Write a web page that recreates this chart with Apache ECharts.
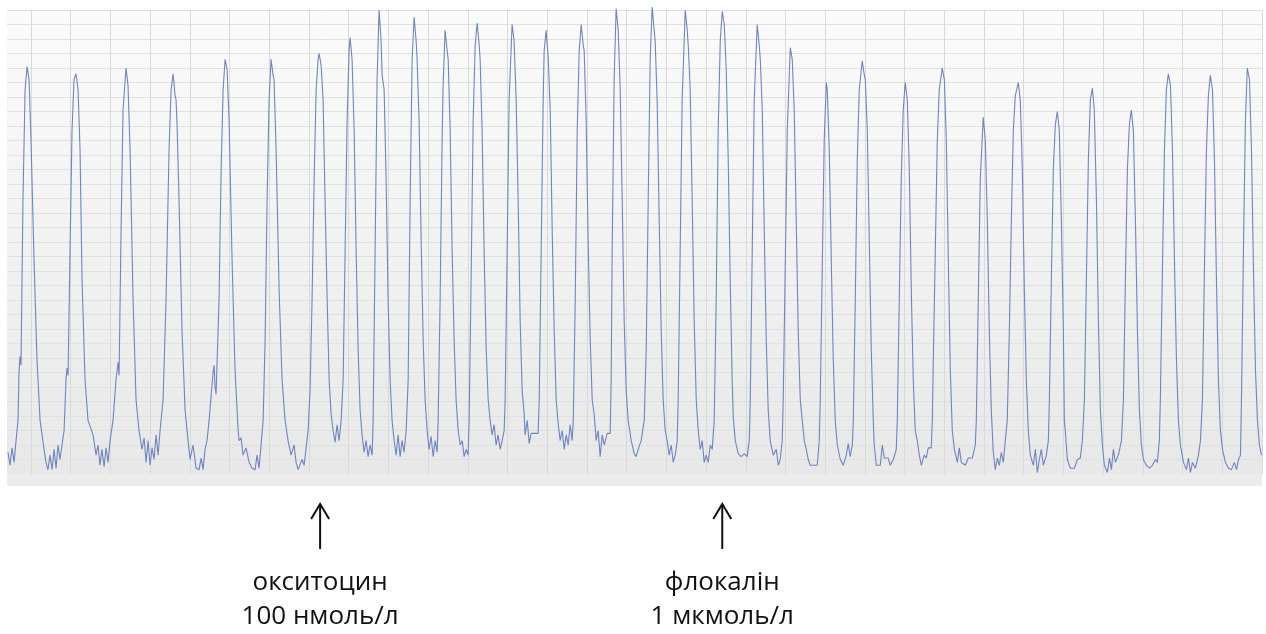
<!DOCTYPE html>
<html>
<head>
<meta charset="utf-8">
<title>Скоротлива активність міометрія</title>
<script src="https://cdn.jsdelivr.net/npm/echarts@6/dist/echarts.min.js"></script>
<style>
  html, body { margin: 0; padding: 0; background: #ffffff; }
  #chart { width: 1266px; height: 634px; }
</style>
</head>
<body>
<div id="chart"></div>
<script>
// Isometric tension record: [time, s; tension, arb. units]
const controlTrace = [
  [-23.2,1.5],[-21.2,0.6],[-19.1,1.8],[-17.1,0.8],[-15.1,2.3],[-13.1,3.7],[-12.1,7.0],[-11.1,8.1],[-10.1,7.5],
  [-8.1,18.9],[-6.0,26.5],[-4.0,28.1],[-2.0,27.2],[0,23.0],[3.0,14.8],[6.0,7.9],[9.1,3.7],[13.1,1.7],
  [15.1,0.8],[17.1,0.3],[19.1,1.3],[21.2,0.3],[23.2,1.7],[25.2,0.4],[27.2,2.0],[29.2,1.0],[31.2,2.0],
  [33.3,3.0],[35.3,6.6],[36.3,7.3],[37.3,6.8],[39.3,15.4],[41.3,23.7],[43.3,27.2],[45.3,27.6],[47.4,26.5],
  [49.4,22.3],[51.4,13.4],[54.4,6.5],[57.4,3.7],[62.5,2.7],[65.5,1.3],
  [67.5,2.0],[69.5,0.6],[71.5,1.7],[73.6,0.5],[75.6,1.8],[77.6,0.8],[79.6,2.3],
  [82.6,3.7],[85.6,6.5],[87.7,7.7],[88.7,6.8],[90.7,16.8],[92.7,25.1],[95.7,28.0],
  [97.7,26.8],[99.8,22.3],[102.8,12.0],[105.8,5.1],[108.8,3.0],
  [111.8,1.7],[113.9,2.5],[115.9,0.8],[117.9,2.3],[119.9,0.6],[121.9,1.8],[123.9,1.0],[126.0,2.7],[128.0,1.3],[130.0,3.0],
  [133.0,5.1],[136.0,12.0],[139.0,22.3],[141.1,26.5],[143.1,27.6],
  [145.1,26.1],[146.1,25.8],[147.1,24.1],[149.1,18.9],[152.1,9.9],[155.2,4.4],[158.2,2.3],
  [160.2,1.0],[163.2,2.0],[166.3,0.4],[169.3,0.3],[171.3,1.1],[173.3,0.3],[175.3,1.7],[177.3,2.3],
  [179.4,3.7],[181.4,5.4],[183.4,7.0],[184.4,7.5],[185.4,6.0],[186.4,5.5],[189.4,12.0],[191.5,21.0],[193.5,26.5],[195.5,28.6],
  [197.5,27.9],[199.5,24.4],[202.5,14.8],[205.5,7.2],[208.6,3.0],
  [209.6,2.3],[211.6,2.5],[213.6,1.3],[216.6,1.8],[219.7,0.8],[222.7,0.4],[225.7,0.3],[227.7,1.3],[229.7,0.4],[231.7,2.0],
  [233.8,3.7],[235.8,9.2],[237.8,18.9],[239.8,25.8],[241.8,28.6],
  [243.8,27.5],[244.8,27.2],[246.9,22.3],[249.9,12.7],[252.9,6.5],[255.9,3.7],[258.9,2.3],
  [262.0,1.3],[265.0,2.0],[267.0,0.8],[269.0,0.3],[271.0,0.3],[273.1,1.0],[275.1,0.6],[277.1,1.8]
];

const oxytocinTrace = [
  [279.1,3.0],[281.1,5.8],[283.1,12.0],[285.2,20.3],[287.2,26.5],[289.2,28.6],[290.2,29.0],
  [292.2,28.2],[294.2,25.8],[296.2,18.9],[298.3,12.0],[300.3,6.5],[302.3,4.1],
  [304.3,3.0],[306.3,2.2],[308.3,3.4],[310.3,2.3],[312.4,3.7],
  [314.4,6.5],[316.4,15.4],[318.4,24.4],[320.4,29.2],[321.4,30.1],
  [323.4,28.6],[325.5,23.7],[327.5,15.4],[329.5,8.6],[331.5,4.4],
  [333.5,2.7],[335.5,1.5],[337.5,2.3],[339.6,1.2],[341.6,2.0],[343.6,1.3],
  [344.6,3.7],[346.6,15.4],[348.6,27.2],[350.6,32.0],
  [352.6,29.9],[353.7,27.5],[355.7,26.5],[357.7,20.3],[359.7,12.0],[361.7,6.5],[363.7,3.7],
  [365.8,2.3],[367.8,1.3],[369.8,2.7],[371.8,1.2],[373.8,2.3],[375.8,1.5],[377.9,3.0],
  [379.9,6.5],[381.9,18.9],[383.9,28.6],[385.9,31.5],
  [387.9,29.9],[388.9,28.6],[390.9,24.4],[393.0,16.1],[395.0,9.2],[397.0,5.1],
  [399.0,3.0],[401.0,1.7],[403.0,2.6],[405.1,1.2],[407.1,2.3],[409.1,1.5],
  [410.1,3.7],[412.1,12.0],[414.1,23.0],[415.1,26.8],[417.1,30.6],
  [419.2,29.2],[420.2,28.6],[422.2,23.7],[424.2,15.4],[426.2,9.2],[428.2,5.1],
  [430.3,3.0],[432.3,2.0],[434.3,2.3],[436.3,1.2],[438.3,1.7],[440.3,1.3],
  [441.3,3.7],[443.3,13.4],[445.4,24.4],[447.4,29.6],[449.4,31.1],
  [451.4,29.6],[452.4,28.6],[454.4,23.7],[456.4,15.4],[458.5,8.6],[460.5,5.1],
  [462.5,3.7],[464.5,2.7],[466.5,3.4],[468.5,2.0],[470.5,2.7],[472.6,1.7],[474.6,2.3],[476.6,3.0],
  [477.6,5.1],[479.6,15.4],[481.6,25.8],[484.6,31.0],
  [486.6,29.9],[488.7,25.8],[490.7,18.9],[492.7,10.6],[494.7,5.8],
  [496.7,4.2],[497.7,2.7],[499.8,3.7],[501.8,2.1],[503.8,2.8],[507.8,2.8],[510.8,2.8],
  [511.9,5.1],[513.9,15.4],[515.9,25.8],[516.9,29.2],[518.9,30.6],
  [519.9,29.6],[520.9,28.9],[523.0,25.1],[525.0,16.8],[527.0,9.9],[529.0,5.1],
  [531.0,3.5],[533.0,2.3],[535.1,3.0],[537.1,1.7],[539.1,2.7],[541.1,2.0],[543.1,3.4],[545.1,2.3],
  [546.2,3.7],[548.2,12.0],[550.2,23.7],[552.2,29.2],[554.2,31.0],
  [556.2,29.6],[557.2,29.2],[559.2,24.4],[561.2,16.1],[563.3,9.2],[565.3,5.1],
  [567.3,4.1],[569.3,2.3],[571.3,3.0],[573.3,1.2],[575.4,2.7],[577.4,2.0],[580.4,2.8],[583.4,2.8],
  [584.4,6.5],[585.4,15.4],[587.4,27.2],[589.4,32.1],
  [591.5,30.6],[593.5,26.5],[595.5,18.9],[597.5,10.6],[599.5,5.8],
  [601.5,3.7],[604.6,2.3],[607.6,1.4],[609.6,1.2],[611.6,1.7],[614.6,2.3],[617.7,3.7],
  [619.7,8.6],[621.7,18.9],[623.7,28.6],[625.7,32.2],
  [627.7,30.6],[628.7,29.9],[630.7,25.8],[632.8,17.5],[634.8,9.9],[636.8,5.1],
  [638.8,3.0],[640.8,2.3],[642.8,1.3],[644.9,2.0],[646.9,0.8],[648.9,1.3],[650.9,2.3],
  [651.9,5.1],[653.9,15.4],[655.9,25.8],[659.0,32.0],
  [661.0,30.6],[662.0,29.6],[664.0,26.5],[666.0,18.9],[668.0,10.6],[670.1,5.1],
  [672.1,3.0],[674.1,1.7],[676.1,2.3],[678.1,0.8],[680.1,1.3],[682.2,0.8],[684.2,2.0],[686.2,1.7]
];

const flocalinTrace = [
  [688.2,3.7],[690.2,12.0],[692.2,23.7],[694.3,29.9],[696.3,31.9],
  [698.3,31.0],[700.3,27.9],[702.3,21.7],[704.3,13.4],[706.3,6.5],
  [707.4,3.9],[709.4,2.3],[712.4,1.4],[715.4,1.2],[718.4,1.4],[721.4,1.2],[723.5,2.3],
  [724.5,5.1],[726.5,15.4],[728.5,25.8],[731.5,31.0],
  [733.5,29.6],[734.6,28.6],[736.6,25.1],[738.6,16.8],[740.6,9.2],[742.6,4.4],
  [744.6,2.3],[747.7,1.3],[750.7,1.7],[752.7,0.6],[754.7,1.0],[756.7,2.3],
  [757.7,5.1],[759.7,14.1],[761.8,23.7],[764.8,29.4],
  [766.8,28.6],[768.8,25.1],[770.8,17.5],[772.8,9.9],[774.9,5.1],
  [776.9,3.7],[778.9,2.3],[780.9,1.7],[782.9,1.0],[784.9,0.6],[788.9,0.6],[792.0,0.6],[794.0,2.3],
  [795.0,5.1],[797.0,14.1],[799.0,23.0],[801.1,27.0],
  [802.1,26.5],[804.1,22.3],[806.1,14.8],[808.1,7.9],[810.1,3.7],
  [812.2,2.0],[815.2,1.0],[818.2,0.6],[821.2,1.3],[823.2,2.1],[825.2,1.2],[827.3,2.0],
  [828.3,3.7],[830.3,12.0],[832.3,21.7],[834.3,26.5],[837.3,28.5],
  [839.4,27.5],[840.4,27.2],[842.4,23.7],[844.4,16.1],[846.4,8.6],[848.4,3.7],
  [849.4,2.0],[851.5,0.6],[855.5,0.6],[857.5,2.0],[859.5,1.1],[863.5,1.1],[865.5,0.6],[868.6,1.0],[871.6,1.7],
  [872.6,3.7],[874.6,12.0],[876.6,20.3],[878.6,25.1],[880.6,27.0],
  [882.7,25.8],[884.7,21.0],[886.7,12.7],[888.7,6.5],[890.7,3.0],
  [892.7,2.3],[894.8,1.3],[896.8,0.6],[899.8,1.3],[901.8,1.1],[903.8,1.8],[906.8,1.8],
  [907.9,3.7],[908.9,7.9],[910.9,15.4],[912.9,23.0],[914.9,26.5],[917.9,28.0],
  [920.0,27.2],[922.0,23.0],[924.0,14.8],[926.0,7.2],[928.0,3.0],
  [930.1,1.7],[933.1,0.8],[935.1,1.8],[937.1,0.8],[941.1,0.6],[944.2,1.1],[948.2,1.1],[951.2,2.0],
  [952.2,3.7],[954.2,12.0],[956.2,20.3],[959.2,24.6],
  [961.3,23.0],[963.3,17.5],[965.3,9.9],[967.3,4.4],
  [969.3,1.5],[971.3,0.3],[973.4,1.1],[975.4,0.6],[977.4,1.5],[979.4,0.8],[981.4,2.3],
  [983.4,3.7],[985.5,9.9],[987.5,17.5],[989.5,23.7],[991.5,26.1],[994.5,27.0],
  [996.5,25.8],[998.6,21.0],[1000.6,12.7],[1002.6,6.5],[1004.6,3.0],
  [1006.6,1.3],[1009.7,0.6],[1011.7,1.7],[1013.7,0.1],[1015.7,1.0],[1017.7,1.7],[1019.7,0.6],[1022.8,1.3],[1024.8,2.3],
  [1025.8,5.1],[1027.8,13.4],[1029.8,21.0],[1031.8,24.1],[1033.8,25.0],
  [1035.8,23.7],[1037.9,17.5],[1039.9,9.9],[1040.9,3.7],[1041.9,2.9],
  [1043.9,1.0],[1047.0,0.4],[1051.0,0.4],[1054.0,1.0],[1057.0,1.1],[1059.0,2.3],
  [1061.1,5.1],[1063.1,13.4],[1065.1,21.7],[1067.1,25.8],[1069.1,26.6],
  [1071.1,25.1],[1073.2,18.9],[1075.2,10.6],[1077.2,4.4],
  [1079.2,2.0],[1081.2,0.6],[1084.3,0.1],[1086.3,1.1],[1088.3,0.3],[1090.3,1.7],[1092.3,0.8],[1095.3,1.3],[1098.4,2.3],
  [1100.4,5.1],[1102.4,13.4],[1104.4,21.0],[1106.4,24.1],[1108.4,25.1],
  [1110.4,23.7],[1112.5,17.5],[1114.5,9.9],[1116.5,4.4],
  [1118.5,2.0],[1120.5,1.0],[1123.5,0.6],[1126.6,0.4],[1129.6,0.6],[1132.6,1.0],[1134.6,0.8],[1136.6,2.3],
  [1137.6,5.1],[1139.7,14.1],[1141.7,22.3],[1143.7,26.5],[1145.6,27.6],
  [1147.8,26.8],[1149.8,22.3],[1151.8,14.8],[1153.8,7.9],[1155.8,3.7],
  [1157.8,2.0],[1160.9,0.8],[1163.9,0.3],[1165.9,1.1],[1167.9,0.1],[1169.9,0.8],[1172.9,0.4],[1176.0,1.3],[1178.0,2.3],
  [1180.0,5.1],[1182.0,14.1],[1184.0,22.3],[1186.0,26.1],[1187.9,27.5],
  [1190.1,26.5],[1192.1,21.7],[1194.1,13.4],[1196.1,6.5],[1198.1,3.0],
  [1200.2,1.7],[1203.2,0.8],[1206.2,0.4],[1209.2,0.3],[1212.2,0.8],[1214.3,0.3],[1216.3,1.0],[1218.3,1.3],
  [1219.3,5.1],[1221.3,15.4],[1223.3,24.4],[1225.2,28.0],
  [1227.4,27.2],[1229.4,22.3],[1231.4,14.1],[1233.4,7.2],[1235.4,3.7],[1237.4,2.0],[1239.5,1.3]
];

// Drug additions: time of application, name, concentration
const drugTimes = [291.2, 696.3];
const drugNames = ['окситоцин', 'флокалін'];
const drugDoses = ['100 нмоль/л', '1 мкмоль/л'];

// Axis ranges: time grid lines every 40 s from t = 0
const recordStart = -24.2, timeMax = 1240, timeStep = 40;
const tensionMin = 0, tensionMax = 32, tensionStep = 1;

const trace = controlTrace.concat(oxytocinTrace, flocalinTrace);

const chart = echarts.init(document.getElementById('chart'), null, { renderer: 'canvas' });

const W = 1266, H = 634;
const plotTop = 10, plotBottomPx = 474, plotLeftPx = 7, plotRightPx = 1262;
const pxPerUnit = (plotRightPx - plotLeftPx) / (timeMax - recordStart);
const zeroPx = plotLeftPx + (0 - recordStart) * pxPerUnit;

chart.setOption({
  animation: false,
  backgroundColor: '#ffffff',
  grid: [
    {
      left: plotLeftPx, right: W - plotRightPx, top: plotTop, bottom: H - plotBottomPx,
      show: true, borderWidth: 0,
      backgroundColor: {
        type: 'linear', x: 0, y: 0, x2: 0, y2: 1,
        colorStops: [
          { offset: 0, color: '#fbfbfb' },
          { offset: 0.5, color: '#f2f2f2' },
          { offset: 1, color: '#e8e8e8' }
        ]
      }
    },
    {
      left: zeroPx, right: W - plotRightPx, top: plotTop, bottom: H - plotBottomPx,
      show: false
    }
  ],
  xAxis: [
    {
      gridIndex: 0, type: 'value', min: recordStart, max: timeMax,
      axisLine: { show: false }, axisTick: { show: false }, axisLabel: { show: false },
      splitLine: { show: false }
    },
    {
      gridIndex: 1, type: 'value', min: 0, max: timeMax, interval: timeStep,
      axisLine: { show: false }, axisTick: { show: false }, axisLabel: { show: false },
      splitLine: { show: true, lineStyle: { color: '#d9d9d9', width: 1 } }
    }
  ],
  yAxis: [
    {
      gridIndex: 0, type: 'value', min: tensionMin, max: tensionMax, interval: tensionStep,
      axisLine: { show: false }, axisTick: { show: false }, axisLabel: { show: false },
      splitLine: { show: true, lineStyle: { color: '#e1e1e1', width: 1 } }
    },
    {
      gridIndex: 1, type: 'value', min: tensionMin, max: tensionMax,
      axisLine: { show: false }, axisTick: { show: false }, axisLabel: { show: false },
      splitLine: { show: false }
    }
  ],
  series: [
    {
      type: 'line',
      name: 'Сила скорочення',
      xAxisIndex: 0, yAxisIndex: 0,
      data: trace,
      showSymbol: false,
      clip: false,
      lineStyle: { color: '#6f85bf', width: 1.1 },
      z: 3
    }
  ]
});

// Lower frame strip under the plot, then drug arrows with labels
function drawAnnotations() {
  const els = [{
    type: 'rect',
    shape: { x: plotLeftPx, y: plotBottomPx, width: plotRightPx - plotLeftPx, height: 12 },
    style: { fill: '#ececec' },
    z: 1
  }];
  const font = '500 26px "Open Sans", "Noto Sans", sans-serif';
  drugTimes.forEach(function (t, i) {
    const x = chart.convertToPixel({ xAxisIndex: 0 }, t);
    const tipY = 503, baseY = 549;
    els.push({
      type: 'polyline',
      shape: { points: [[x, baseY], [x, tipY + 1]] },
      style: { stroke: '#111111', lineWidth: 2, fill: null }
    });
    els.push({
      type: 'polyline',
      shape: { points: [[x - 9, tipY + 16], [x, tipY + 1], [x + 9, tipY + 16]] },
      style: { stroke: '#111111', lineWidth: 2, fill: null, lineJoin: 'miter' }
    });
    els.push({
      type: 'text',
      x: x, y: 583,
      style: {
        text: drugNames[i], fill: '#111111', align: 'center', verticalAlign: 'middle', font: font
      }
    });
    els.push({
      type: 'text',
      x: x, y: 617,
      style: {
        text: drugDoses[i], fill: '#111111', align: 'center', verticalAlign: 'middle', font: font
      }
    });
  });
  chart.setOption({ graphic: { elements: els } });
}
drawAnnotations();
</script>
</body>
</html>
